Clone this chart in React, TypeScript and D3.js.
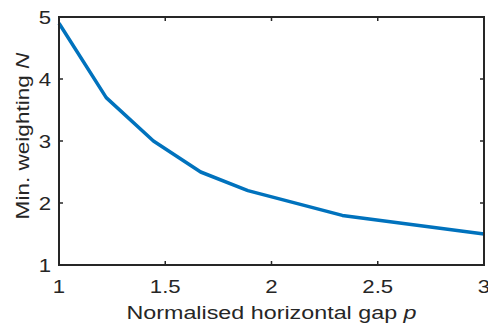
import { useEffect, useRef } from 'react'
import * as d3 from 'd3'

const gapValues = [1, 1.2222, 1.4444, 1.6667, 1.8889, 2.3333, 3]
const weightValues = [4.9, 3.7, 3.0, 2.5, 2.2, 1.8, 1.5]
const xTicks = [1, 1.5, 2, 2.5, 3]
const yTicks = [1, 2, 3, 4, 5]

const width = 488
const height = 327
const font = 'Liberation Sans, Arial, Helvetica, sans-serif'
const ink = '#262626'
// text in the source is a little wider than Arial at the same height
const stretch = 1.2

export default function App() {
  const svgRef = useRef<SVGSVGElement>(null)

  useEffect(() => {
    if (!svgRef.current) return
    const svg = d3.select(svgRef.current)
    svg.selectAll('*').remove()

    const margin = { top: 17, right: 4, bottom: 62, left: 59 }
    const x = d3.scaleLinear().domain([1, 3]).range([margin.left, width - margin.right])
    const y = d3.scaleLinear().domain([1, 5]).range([height - margin.bottom, margin.top])

    const data = gapValues.map((g, i) => ({ g, n: weightValues[i] }))

    // Data line
    const line = d3.line<typeof data[0]>()
      .x(d => x(d.g))
      .y(d => y(d.n))

    svg.append('path')
      .datum(data)
      .attr('d', line)
      .style('fill', 'none')
      .style('stroke', '#0072BD')
      .style('stroke-width', '3.5px')
      .style('stroke-linejoin', 'round')

    // Box
    svg.append('rect')
      .attr('x', x(1))
      .attr('y', y(5))
      .attr('width', x(3) - x(1))
      .attr('height', y(1) - y(5))
      .style('fill', 'none')
      .style('stroke', ink)
      .style('stroke-width', '2px')

    const tickLen = 4

    // Ticks inside on all sides
    xTicks.forEach(t => {
      svg.append('line')
        .attr('x1', x(t)).attr('x2', x(t))
        .attr('y1', y(1)).attr('y2', y(1) - tickLen)
        .style('stroke', ink).style('stroke-width', '1.5px')
      svg.append('line')
        .attr('x1', x(t)).attr('x2', x(t))
        .attr('y1', y(5)).attr('y2', y(5) + tickLen)
        .style('stroke', ink).style('stroke-width', '1.5px')
      svg.append('text')
        .attr('transform', `translate(${x(t)},${y(1) + 27.5}) scale(${stretch},1)`)
        .attr('text-anchor', 'middle')
        .style('fill', ink)
        .style('font-size', '18.5px')
        .style('font-family', font)
        .text(String(t))
    })

    yTicks.forEach(t => {
      svg.append('line')
        .attr('x1', x(1)).attr('x2', x(1) + tickLen)
        .attr('y1', y(t)).attr('y2', y(t))
        .style('stroke', ink).style('stroke-width', '1.5px')
      svg.append('line')
        .attr('x1', x(3)).attr('x2', x(3) - tickLen)
        .attr('y1', y(t)).attr('y2', y(t))
        .style('stroke', ink).style('stroke-width', '1.5px')
      svg.append('text')
        .attr('transform', `translate(${x(1) - 8},${y(t) + 7}) scale(${stretch},1)`)
        .attr('text-anchor', 'end')
        .style('fill', ink)
        .style('font-size', '18.5px')
        .style('font-family', font)
        .text(String(t))
    })

    // X label
    const xl = svg.append('text')
      .attr('transform', `translate(${(x(1) + x(3)) / 2},318.5) scale(1.26,1)`)
      .attr('text-anchor', 'middle')
      .style('fill', ink)
      .style('font-size', '18.5px')
      .style('font-family', font)
    xl.append('tspan').text('Normalised horizontal gap ')
    xl.append('tspan').style('font-style', 'italic').text('p')

    // Y label
    const yl = svg.append('text')
      .attr('transform', `translate(28.5,136) rotate(-90) scale(1.22,1)`)
      .attr('text-anchor', 'middle')
      .style('fill', ink)
      .style('font-size', '18.5px')
      .style('font-family', font)
    yl.append('tspan').text('Min. weighting ')
    yl.append('tspan').style('font-style', 'italic').text('N')
  }, [])

  return (
    <svg
      ref={svgRef}
      width={width}
      height={height}
      style={{ position: 'absolute', left: 0, top: 0, background: '#fff' }}
    />
  )
}
